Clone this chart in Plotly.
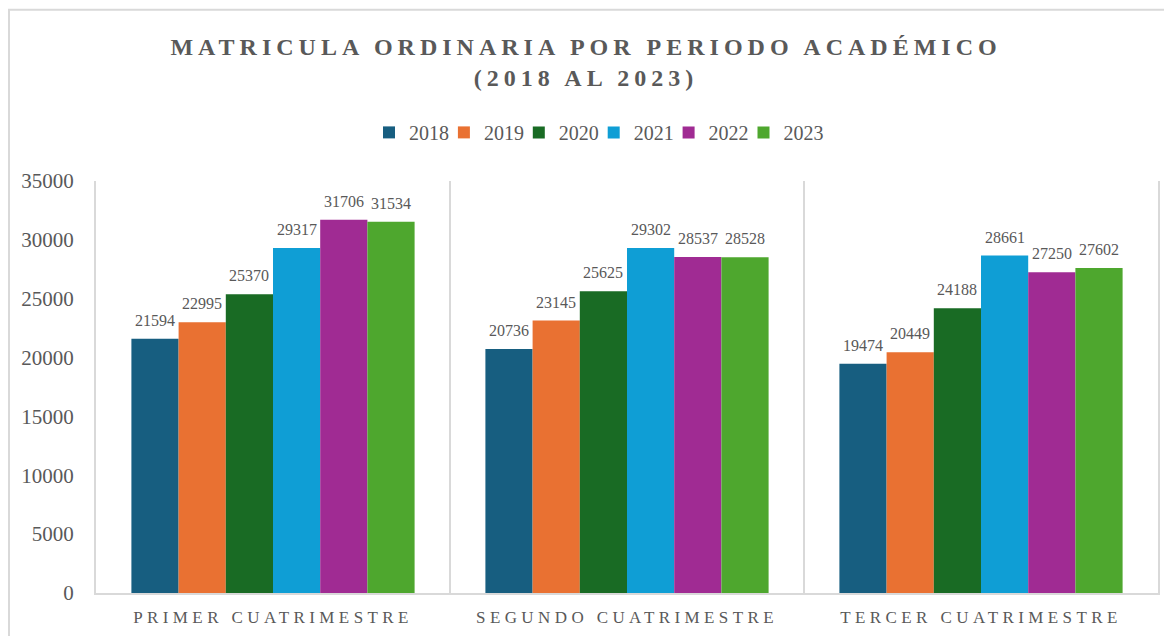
import plotly.graph_objects as go

categories = ["PRIMER CUATRIMESTRE", "SEGUNDO CUATRIMESTRE", "TERCER CUATRIMESTRE"]
years = ["2018", "2019", "2020", "2021", "2022", "2023"]
v2018 = [21594, 20736, 19474]
v2019 = [22995, 23145, 20449]
v2020 = [25370, 25625, 24188]
v2021 = [29317, 29302, 28661]
v2022 = [31706, 28537, 27250]
v2023 = [31534, 28528, 27602]
series = [v2018, v2019, v2020, v2021, v2022, v2023]
colors = ["#175E80", "#E97132", "#196B24", "#0F9ED5", "#A02B93", "#4EA72E"]
y_ticks = [0, 5000, 10000, 15000, 20000, 25000, 30000, 35000]

SERIF = "Liberation Serif"
GRAY = "#595959"
BARGAP = 0.2
PLOT_L, PLOT_W = 96, 1062  # page px of plot area (incl. 8px body margin)

fig = go.Figure()
n = len(series)
bw = (1 - BARGAP) / n
annotations = []
for j, (name, vals, col) in enumerate(zip(years, series, colors)):
    lg = "legend" if j == 0 else f"legend{j + 1}"
    fig.add_trace(go.Bar(
        x=categories, y=vals, name=name, marker=dict(color=col, line=dict(width=0)),
        legend=lg, showlegend=True,
    ))
    for i, v in enumerate(vals):
        annotations.append(dict(
            x=i - (1 - BARGAP) / 2 + (j + 0.5) * bw, y=v, xref="x", yref="y",
            text=str(v), showarrow=False, yanchor="bottom", xanchor="center", yshift=8,
            font=dict(family=SERIF, size=16, color=GRAY),
        ))

def spaced(t, ls):
    return f'<span style="letter-spacing:{ls}px">{t}</span>'

legends = {}
for j in range(n):
    key = "legend" if j == 0 else f"legend{j + 1}"
    left_page = 369 + 74.9 * j
    legends[key] = dict(
        x=(left_page - PLOT_L) / PLOT_W, xanchor="left", y=(593.3 - 132.7) / 412, yanchor="middle",
        font=dict(family=SERIF, size=20, color=GRAY), itemwidth=30,
        bgcolor="rgba(0,0,0,0)", orientation="h",
    )

fig.update_layout(
    width=1164, height=628, showlegend=True,
    margin=dict(l=88, r=14, t=173, b=43, autoexpand=False),
    paper_bgcolor="white", plot_bgcolor="white",
    barmode="group", bargap=BARGAP, bargroupgap=0,
    title=dict(
        text=spaced("MATRICULA ORDINARIA POR PERIODO ACADÉMICO", 5) + "<br>" + spaced("(2018 AL 2023)", 5),
        font=dict(family=SERIF, size=24, color=GRAY, weight="bold"),
        x=(586 - 8) / 1164, xanchor="center", xref="container",
        y=1 - 47 / 628, yanchor="middle", yref="container",
    ),
    xaxis=dict(
        tickmode="array", tickvals=categories,
        ticktext=[spaced(c, 4.4) for c in categories],
        tickfont=dict(family=SERIF, size=17, color=GRAY),
        showgrid=True, gridcolor="#d9d9d9", gridwidth=2, tickson="boundaries",
        showline=True, linecolor="#d9d9d9", linewidth=2, mirror=False,
        ticks="", ticklabelstandoff=8, automargin=False,
    ),
    yaxis=dict(
        range=[0, 35000], tickmode="array", tickvals=y_ticks,
        ticktext=[str(t) for t in y_ticks], showgrid=False, zeroline=False,
        tickfont=dict(family=SERIF, size=21, color=GRAY),
        showline=True, mirror=True, linecolor="#d9d9d9", linewidth=2,
        ticks="", ticklabelstandoff=16, automargin=False,
    ),
    annotations=annotations,
    shapes=[dict(
        type="rect", xref="paper", yref="paper",
        x0=(9 - PLOT_L) / PLOT_W, x1=1.1, y0=-0.3, y1=(593.3 - 10) / 412,
        line=dict(color="#d9d9d9", width=2), fillcolor="rgba(0,0,0,0)", layer="below",
    )],
    **legends,
)

fig.write_html("out.html")
